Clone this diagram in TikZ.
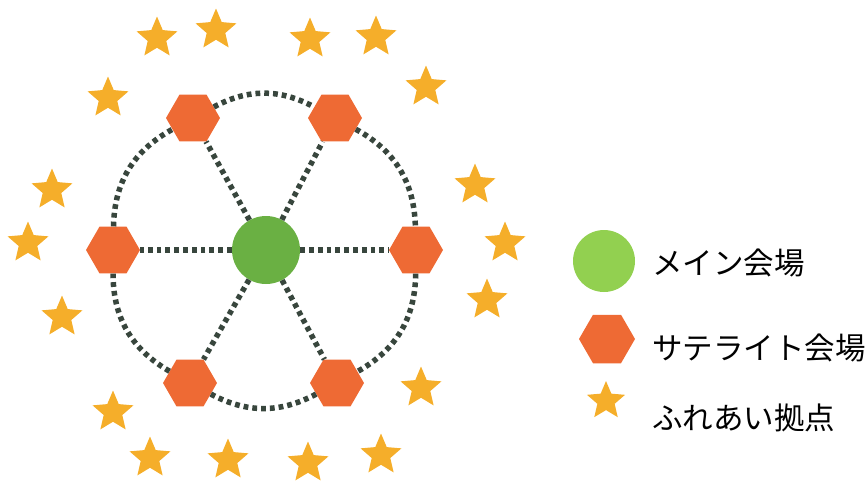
\documentclass[tikz,border=0pt]{standalone}
\usepackage{fontspec}
\newfontfamily\cjk{Noto Sans CJK JP}
\usetikzlibrary{shapes.geometric}
\definecolor{starc}{HTML}{F5AE2A}
\definecolor{hexc}{HTML}{EE6A34}
\definecolor{mainc}{HTML}{6AB043}
\definecolor{legc}{HTML}{92D050}
\definecolor{dotc}{HTML}{38463D}
\tikzset{
  hexnode/.style={regular polygon, regular polygon sides=6, minimum size=54pt, inner sep=0pt, fill=hexc},
  starnode/.style={star, star points=5, star point ratio=2.2, minimum size=43pt, inner sep=0pt, fill=starc},
  mainnode/.style={circle, minimum size=68pt, inner sep=0pt, fill=mainc},
  legcircle/.style={circle, minimum size=62pt, inner sep=0pt, fill=legc},
  dotline/.style={draw=dotc, line width=5.5pt, dash pattern=on 4.8pt off 4pt},
  legtext/.style={anchor=west, inner sep=0pt, font=\cjk\fontsize{30.5}{33}\selectfont}
}
\begin{document}
\begin{tikzpicture}[x=1pt,y=-1pt]
\useasboundingbox (0,0) rectangle (865,480);
% stars
\foreach \n/\p in {1/{(157,38)},2/{(216,30)},3/{(310,39)},4/{(376,37)},5/{(108,98)},6/{(426,87)},
  7/{(52,190)},8/{(475,185)},9/{(28,243)},10/{(505,243)},11/{(62,317)},12/{(487,300)},
  13/{(113,412)},14/{(421,388)},15/{(150,458)},16/{(228,460)},17/{(308,463)},18/{(381,455)}}
  \node[starnode] (s\n) at \p {};
% main and satellites
\node[mainnode] (c) at (266,250) {};
\node[hexnode] (h1) at (193,118) {};
\node[hexnode] (h2) at (335,118) {};
\node[hexnode] (h3) at (416,250) {};
\node[hexnode] (h4) at (337,383) {};
\node[hexnode] (h5) at (190,383) {};
\node[hexnode] (h6) at (113,250) {};
% spokes
\foreach \h in {h1,h2,h3,h4,h5,h6} \draw[dotline] (c) -- (\h);
% ring
\draw[dotline] (h1) to[bend left=28] (h2);
\draw[dotline] (h2) to[bend left=30] (h3);
\draw[dotline] (h3) to[bend left=30] (h4);
\draw[dotline] (h4) to[bend left=28] (h5);
\draw[dotline] (h5) to[bend left=30] (h6);
\draw[dotline] (h6) to[bend left=30] (h1);
% legend
\node[legcircle] (l1) at (604,261) {};
\node[hexnode, minimum size=56pt] (l2) at (607,339) {};
\node[starnode, minimum size=40pt] (l3) at (606,401) {};
\node[legtext] (t1) at (652,263) {メイン会場};
\node[legtext] (t2) at (652,348) {サテライト会場};
\node[legtext] (t3) at (652,418) {ふれあい拠点};
\end{tikzpicture}
\end{document}
